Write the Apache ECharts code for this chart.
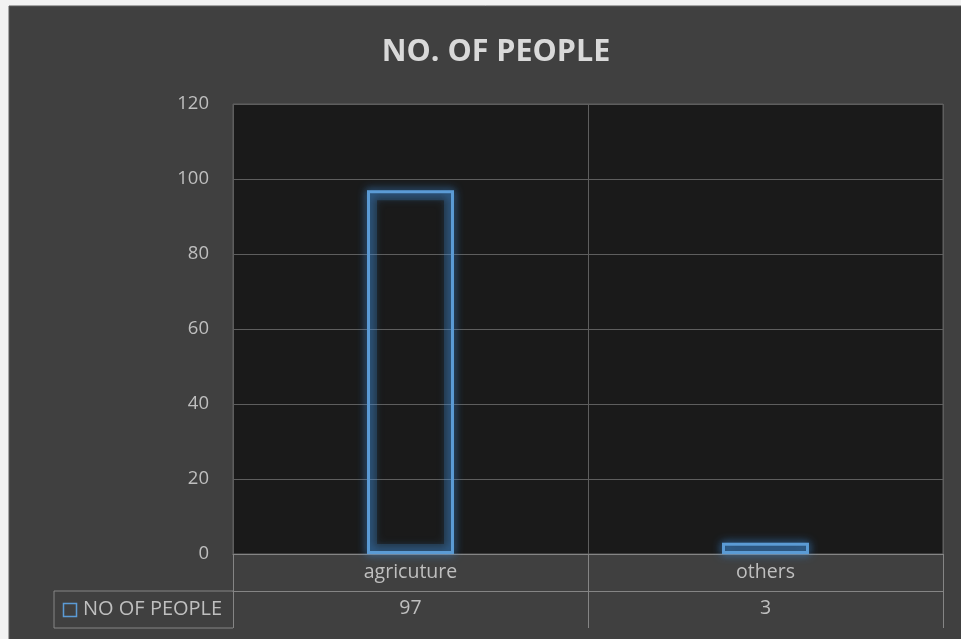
<!DOCTYPE html>
<html><head><meta charset="utf-8">
<script src="https://cdn.jsdelivr.net/npm/echarts@6/dist/echarts.min.js"></script>
<style>html,body{margin:0;padding:0;background:#f2f2f2;}#c{width:961px;height:639px;}</style>
</head><body><div id="c"></div>
<script>
const title = 'NO. OF PEOPLE';
const seriesName = 'NO OF PEOPLE';
const categories = ['agricuture', 'others'];
const values = [97, 3];
const yMin = 0, yMax = 120, yStep = 20;

const chart = echarts.init(document.getElementById('c'));
const txt = '#bfbfbf', tableLine = '#858585', gridLine = '#5e5e5e';
const fontFam = '"Open Sans", "Noto Sans", sans-serif';

const option = {
  backgroundColor: '#f2f2f2',
  animation: false,
  title: {
    text: title, left: 491, textAlign: 'center', top: 32,
    textStyle: {color: '#d9d9d9', fontSize: 30.5, fontWeight: 'bold', fontFamily: fontFam}
  },
  grid: {left: 233, right: 18, top: 104, bottom: 85, show: true,
    backgroundColor: '#1a1a1a', borderColor: gridLine, borderWidth: 1},
  xAxis: [{
    type: 'category', data: categories, position: 'bottom',
    axisLine: {show: true, lineStyle: {color: tableLine}},
    axisTick: {show: true, length: 37, lineStyle: {color: tableLine}},
    axisLabel: {color: txt, fontSize: 19.5, fontFamily: fontFam, margin: 8},
    splitLine: {show: true, lineStyle: {color: gridLine}}
  }, {
    type: 'category', data: values.map(String), position: 'bottom', offset: 37,
    axisLine: {show: true, lineStyle: {color: tableLine}},
    axisTick: {show: true, length: 37, lineStyle: {color: tableLine}},
    axisLabel: {color: txt, fontSize: 19.5, fontFamily: fontFam, margin: 7},
    splitLine: {show: false}
  }],
  yAxis: {
    type: 'value', min: yMin, max: yMax, interval: yStep,
    axisLine: {show: false}, axisTick: {show: false},
    axisLabel: {color: txt, fontSize: 18.5, fontFamily: fontFam, margin: 24},
    splitLine: {lineStyle: {color: gridLine}}
  },
  series: [{
    // soft glow halo
    type: 'bar', name: seriesName + ' glow', data: values, xAxisIndex: 0, barWidth: '24.5%', barGap: '-100%',
    silent: true,
    itemStyle: {color: 'none', borderColor: 'rgba(70,140,210,0.22)', borderWidth: 10,
      shadowColor: 'rgba(70,140,210,0.6)', shadowBlur: 8}
  }, {
    type: 'bar', name: seriesName, data: values, xAxisIndex: 0, barWidth: '24.5%', barGap: '-100%',
    itemStyle: {color: 'none', borderColor: '#5b9bd5', borderWidth: 3,
      shadowColor: 'rgba(60,140,220,1)', shadowBlur: 10}
  }]
};
chart.setOption(option);

const gx0 = chart.convertToPixel({xAxisIndex: 0}, 0);
const step = chart.convertToPixel({xAxisIndex: 0}, 1) - gx0;
const left = gx0 - step / 2;
const yBase = chart.convertToPixel({yAxisIndex: 0}, yMin);
const rowH = 37;
const cellLeft = 54;
chart.setOption({
  graphic: [
    {type: 'rect', z: -10, silent: true, shape: {x: 9, y: 6, width: 961, height: 639},
      style: {fill: '#404040', stroke: '#5a5a5a', lineWidth: 1}},
    {type: 'line', shape: {x1: cellLeft, y1: yBase + rowH, x2: left, y2: yBase + rowH}, style: {stroke: tableLine, lineWidth: 1}},
    {type: 'line', shape: {x1: cellLeft, y1: yBase + 2 * rowH, x2: left, y2: yBase + 2 * rowH}, style: {stroke: tableLine, lineWidth: 1}},
    {type: 'line', shape: {x1: cellLeft, y1: yBase + rowH, x2: cellLeft, y2: yBase + 2 * rowH}, style: {stroke: tableLine, lineWidth: 1}},
    {type: 'rect', shape: {x: cellLeft + 9.5, y: yBase + rowH + 12.5, width: 13, height: 13},
      style: {fill: 'rgba(0,0,0,0)', stroke: '#5b9bd5', lineWidth: 1.5}},
    {type: 'text', x: cellLeft + 29, y: yBase + rowH * 1.5,
      style: {text: seriesName, fill: txt, font: '20px ' + fontFam, textVerticalAlign: 'middle', textAlign: 'left'}}
  ]
});
</script></body></html>
